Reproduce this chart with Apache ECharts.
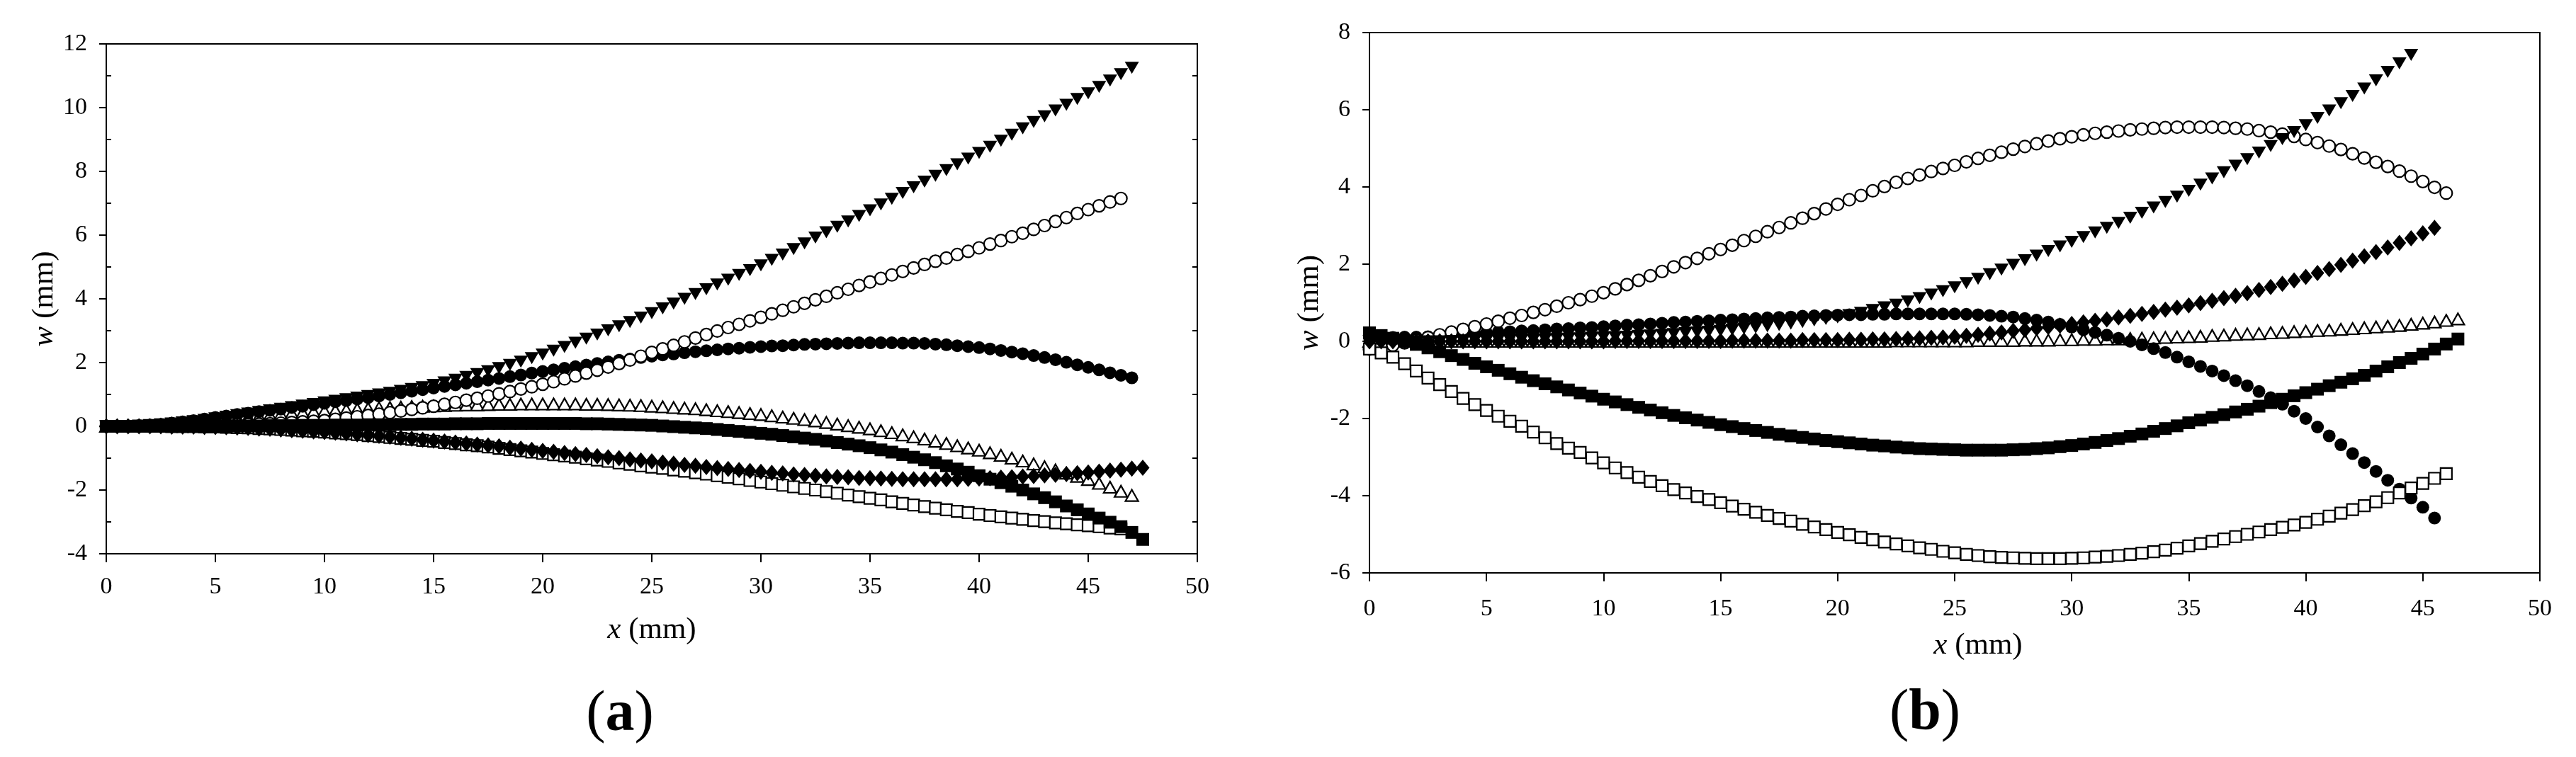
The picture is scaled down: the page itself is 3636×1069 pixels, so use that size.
<!DOCTYPE html>
<html>
<head>
<meta charset="utf-8">
<script src="https://cdn.jsdelivr.net/npm/echarts@6/dist/echarts.min.js"></script>
<style>
  html, body { margin: 0; padding: 0; background: #fff; }
  #main { width: 3636px; height: 1069px; }
</style>
</head>
<body>
<div id="main"></div>
<script>
// x positions (mm), shared by every series: point i sits at xPos[i]
const xPos = [0,0.5,1,1.5,2,2.5,3,3.5,4,4.5,5,5.5,6,6.5,7,7.5,8,8.5,9,9.5,
  10,10.5,11,11.5,12,12.5,13,13.5,14,14.5,15,15.5,16,16.5,17,17.5,18,18.5,19,19.5,
  20,20.5,21,21.5,22,22.5,23,23.5,24,24.5,25,25.5,26,26.5,27,27.5,28,28.5,29,29.5,
  30,30.5,31,31.5,32,32.5,33,33.5,34,34.5,35,35.5,36,36.5,37,37.5,38,38.5,39,39.5,
  40,40.5,41,41.5,42,42.5,43,43.5,44,44.5,45,45.5,46,46.5,47,47.5];

// ---- panel (a): w (mm)
const aDownTri = [0,0,0.01,0.02,0.04,0.06,0.09,0.12,0.16,0.2,
  0.25,0.3,0.35,0.4,0.45,0.5,0.55,0.6,0.65,0.7,
  0.75,0.8,0.85,0.9,0.95,1.0,1.05,1.11,1.17,1.23,
  1.3,1.38,1.46,1.55,1.64,1.73,1.83,1.93,2.03,2.14,
  2.25,2.37,2.49,2.62,2.75,2.88,3.01,3.14,3.27,3.41,
  3.55,3.7,3.85,4.0,4.15,4.3,4.45,4.6,4.75,4.9,
  5.05,5.22,5.39,5.56,5.74,5.92,6.09,6.26,6.43,6.6,
  6.78,6.96,7.14,7.32,7.5,7.68,7.86,8.04,8.22,8.4,
  8.58,8.77,8.96,9.15,9.35,9.55,9.73,9.91,10.09,10.27,
  10.45,10.65,10.85,11.05,11.25];
const aOpenCircle = [0,0,0,0,0,0.01,0.01,0.02,0.02,0.03,
  0.03,0.04,0.05,0.06,0.07,0.08,0.1,0.12,0.14,0.16,
  0.18,0.22,0.26,0.3,0.34,0.38,0.43,0.48,0.53,0.58,
  0.63,0.69,0.75,0.82,0.88,0.95,1.02,1.09,1.17,1.24,
  1.32,1.4,1.49,1.58,1.67,1.76,1.86,1.97,2.08,2.2,
  2.32,2.43,2.54,2.65,2.77,2.88,2.99,3.1,3.2,3.31,
  3.42,3.53,3.64,3.75,3.86,3.97,4.08,4.19,4.3,4.42,
  4.53,4.64,4.75,4.86,4.97,5.08,5.18,5.28,5.39,5.49,
  5.6,5.72,5.83,5.95,6.06,6.18,6.3,6.43,6.55,6.68,
  6.8,6.92,7.04,7.15];
const aFilledCircle = [0,0,0.01,0.02,0.04,0.06,0.1,0.14,0.18,0.23,
  0.28,0.32,0.37,0.41,0.46,0.5,0.54,0.59,0.63,0.68,
  0.72,0.77,0.81,0.86,0.9,0.95,1.0,1.05,1.1,1.15,
  1.2,1.25,1.3,1.35,1.4,1.45,1.5,1.56,1.61,1.67,
  1.72,1.77,1.82,1.87,1.92,1.97,2.02,2.07,2.11,2.16,
  2.2,2.24,2.27,2.31,2.34,2.37,2.4,2.43,2.45,2.48,
  2.5,2.52,2.53,2.55,2.57,2.58,2.59,2.6,2.61,2.62,
  2.62,2.62,2.62,2.61,2.61,2.6,2.58,2.56,2.53,2.5,
  2.47,2.43,2.38,2.33,2.28,2.22,2.16,2.09,2.01,1.93,
  1.85,1.77,1.68,1.6,1.52];
const aOpenTri = [0,0,0.01,0.02,0.03,0.05,0.08,0.11,0.14,0.17,
  0.2,0.23,0.26,0.29,0.32,0.35,0.38,0.41,0.43,0.46,
  0.48,0.5,0.52,0.54,0.56,0.58,0.59,0.6,0.62,0.63,
  0.64,0.65,0.66,0.67,0.67,0.68,0.69,0.69,0.7,0.7,
  0.7,0.7,0.7,0.7,0.69,0.69,0.68,0.67,0.66,0.65,
  0.63,0.61,0.59,0.57,0.55,0.52,0.49,0.46,0.43,0.4,
  0.37,0.33,0.29,0.25,0.21,0.17,0.12,0.07,0.02,-0.03,
  -0.08,-0.14,-0.2,-0.27,-0.33,-0.4,-0.47,-0.54,-0.61,-0.68,
  -0.75,-0.83,-0.91,-1.0,-1.09,-1.18,-1.27,-1.37,-1.47,-1.57,
  -1.67,-1.79,-1.91,-2.04,-2.17];
const aFilledSquare = [0,0,0,0,0,0,0,0,0,0,
  0,0,0.01,0.01,0.01,0.02,0.02,0.02,0.03,0.03,
  0.03,0.04,0.04,0.04,0.05,0.05,0.05,0.06,0.06,0.07,
  0.07,0.07,0.08,0.08,0.08,0.09,0.09,0.09,0.09,0.09,
  0.09,0.09,0.09,0.09,0.08,0.08,0.07,0.06,0.05,0.04,
  0.03,0.01,-0.01,-0.03,-0.05,-0.07,-0.1,-0.13,-0.16,-0.19,
  -0.22,-0.25,-0.29,-0.33,-0.37,-0.41,-0.46,-0.51,-0.56,-0.61,
  -0.67,-0.74,-0.81,-0.89,-0.97,-1.05,-1.14,-1.24,-1.34,-1.44,
  -1.55,-1.66,-1.77,-1.88,-2.0,-2.12,-2.24,-2.37,-2.5,-2.62,
  -2.75,-2.88,-3.01,-3.15,-3.33,-3.55];
const aDiamond = [0,0,0,0,0,0,-0.01,-0.01,-0.01,-0.02,
  -0.02,-0.03,-0.04,-0.05,-0.07,-0.08,-0.1,-0.12,-0.14,-0.16,
  -0.18,-0.2,-0.22,-0.25,-0.27,-0.3,-0.33,-0.36,-0.39,-0.42,
  -0.45,-0.48,-0.51,-0.54,-0.57,-0.6,-0.63,-0.67,-0.7,-0.74,
  -0.77,-0.8,-0.84,-0.87,-0.9,-0.94,-0.97,-1.0,-1.04,-1.07,
  -1.1,-1.14,-1.17,-1.21,-1.24,-1.28,-1.31,-1.34,-1.37,-1.4,
  -1.43,-1.46,-1.48,-1.51,-1.53,-1.55,-1.57,-1.59,-1.6,-1.62,
  -1.63,-1.64,-1.65,-1.66,-1.66,-1.66,-1.66,-1.66,-1.66,-1.65,
  -1.64,-1.63,-1.61,-1.6,-1.58,-1.56,-1.54,-1.52,-1.5,-1.47,
  -1.45,-1.42,-1.39,-1.36,-1.33,-1.3];
const aOpenSquare = [0,0,0,0,0,0,-0.01,-0.01,-0.01,-0.02,
  -0.02,-0.03,-0.04,-0.05,-0.07,-0.08,-0.1,-0.12,-0.14,-0.16,
  -0.18,-0.21,-0.23,-0.26,-0.29,-0.32,-0.35,-0.38,-0.41,-0.44,
  -0.47,-0.51,-0.54,-0.58,-0.61,-0.65,-0.69,-0.73,-0.77,-0.81,
  -0.85,-0.89,-0.93,-0.97,-1.02,-1.06,-1.1,-1.15,-1.19,-1.24,
  -1.28,-1.32,-1.37,-1.41,-1.46,-1.5,-1.55,-1.6,-1.65,-1.7,
  -1.75,-1.8,-1.85,-1.9,-1.95,-2.0,-2.05,-2.1,-2.16,-2.21,
  -2.26,-2.31,-2.37,-2.42,-2.47,-2.52,-2.57,-2.62,-2.67,-2.71,
  -2.76,-2.8,-2.84,-2.88,-2.92,-2.96,-2.99,-3.03,-3.06,-3.09,
  -3.12,-3.15,-3.19,-3.22];

// ---- panel (b): w (mm)
const bDownTri = [0,0,0,0,0,0,0,0.01,0.01,0.02,
  0.02,0.03,0.03,0.04,0.04,0.05,0.06,0.07,0.08,0.09,
  0.1,0.11,0.12,0.14,0.15,0.17,0.19,0.21,0.23,0.25,
  0.27,0.3,0.33,0.36,0.39,0.42,0.46,0.5,0.54,0.58,
  0.62,0.68,0.74,0.81,0.88,0.95,1.03,1.12,1.21,1.3,
  1.4,1.51,1.62,1.74,1.86,1.98,2.1,2.22,2.34,2.46,
  2.58,2.7,2.82,2.94,3.07,3.2,3.33,3.47,3.61,3.75,
  3.9,4.06,4.22,4.38,4.55,4.72,4.89,5.06,5.24,5.42,
  5.6,5.79,5.98,6.17,6.36,6.55,6.76,6.98,7.2,7.42];
const bOpenCircle = [-0.2,-0.15,-0.1,-0.04,0.03,0.1,0.17,0.24,0.31,0.38,
  0.45,0.52,0.6,0.67,0.75,0.82,0.91,1.0,1.08,1.17,
  1.26,1.36,1.47,1.58,1.7,1.81,1.93,2.04,2.15,2.27,
  2.38,2.49,2.61,2.72,2.84,2.95,3.07,3.19,3.31,3.43,
  3.55,3.67,3.78,3.9,4.01,4.12,4.22,4.31,4.4,4.48,
  4.56,4.65,4.74,4.82,4.9,4.98,5.05,5.12,5.19,5.25,
  5.3,5.35,5.39,5.42,5.45,5.48,5.5,5.52,5.54,5.55,
  5.55,5.55,5.55,5.54,5.52,5.5,5.46,5.42,5.37,5.31,
  5.23,5.15,5.06,4.97,4.86,4.75,4.64,4.53,4.41,4.28,
  4.14,3.99,3.84];
const bFilledCircle = [0.1,0.1,0.1,0.11,0.11,0.12,0.14,0.16,0.18,0.2,
  0.22,0.24,0.25,0.27,0.28,0.3,0.32,0.33,0.35,0.36,
  0.38,0.4,0.42,0.43,0.45,0.47,0.49,0.5,0.52,0.53,
  0.55,0.56,0.58,0.59,0.61,0.62,0.63,0.65,0.66,0.67,
  0.68,0.69,0.69,0.7,0.7,0.71,0.71,0.71,0.71,0.71,
  0.71,0.7,0.69,0.67,0.65,0.63,0.59,0.55,0.5,0.44,
  0.37,0.3,0.23,0.16,0.08,0.0,-0.09,-0.19,-0.29,-0.41,
  -0.53,-0.65,-0.77,-0.89,-1.02,-1.15,-1.3,-1.46,-1.63,-1.81,
  -2.0,-2.22,-2.45,-2.68,-2.91,-3.14,-3.37,-3.6,-3.83,-4.06,
  -4.3,-4.58];
const bOpenTri = [0,0,0,0,0,0,0,0,0,0,
  0,0,0,0,0,0,0,0,0,0,
  0,0,0,0,0,0,0,0,0,0,
  0,0,0,0,0,0,0,0,0,0,
  0,0,0,0,0,0.01,0.01,0.01,0.01,0.01,
  0.01,0.01,0.02,0.02,0.02,0.02,0.03,0.03,0.03,0.04,
  0.04,0.05,0.05,0.06,0.06,0.07,0.08,0.09,0.1,0.11,
  0.12,0.13,0.15,0.16,0.18,0.19,0.2,0.22,0.23,0.25,
  0.26,0.28,0.29,0.31,0.33,0.35,0.37,0.39,0.41,0.44,
  0.47,0.5,0.54,0.58];
const bFilledSquare = [0.22,0.15,0.08,0.0,-0.08,-0.17,-0.27,-0.37,-0.47,-0.57,
  -0.66,-0.75,-0.84,-0.93,-1.02,-1.1,-1.18,-1.26,-1.34,-1.42,
  -1.5,-1.57,-1.64,-1.71,-1.78,-1.85,-1.92,-1.98,-2.04,-2.1,
  -2.16,-2.21,-2.26,-2.31,-2.36,-2.41,-2.45,-2.49,-2.53,-2.57,
  -2.6,-2.63,-2.66,-2.69,-2.71,-2.74,-2.76,-2.78,-2.79,-2.8,
  -2.81,-2.82,-2.82,-2.82,-2.82,-2.81,-2.8,-2.78,-2.76,-2.73,
  -2.7,-2.66,-2.62,-2.57,-2.52,-2.46,-2.4,-2.33,-2.26,-2.19,
  -2.11,-2.04,-1.97,-1.9,-1.83,-1.76,-1.68,-1.59,-1.5,-1.41,
  -1.33,-1.24,-1.15,-1.06,-0.97,-0.88,-0.77,-0.66,-0.55,-0.44,
  -0.33,-0.2,-0.07,0.06];
const bDiamond = [0,0,0,0,0,0,0,0,0,0,
  0,0,0,0,0,0,0,0,0,0,
  0,0.01,0.01,0.01,0.01,0.01,0.01,0.01,0.01,0.01,
  0.01,0.02,0.02,0.02,0.02,0.02,0.02,0.03,0.03,0.03,
  0.03,0.04,0.04,0.05,0.05,0.06,0.07,0.08,0.09,0.1,
  0.12,0.14,0.17,0.2,0.23,0.27,0.3,0.34,0.37,0.41,
  0.45,0.49,0.53,0.57,0.62,0.66,0.71,0.76,0.82,0.87,
  0.93,0.99,1.05,1.12,1.18,1.25,1.33,1.41,1.49,1.58,
  1.67,1.77,1.87,1.98,2.09,2.2,2.31,2.43,2.55,2.67,
  2.8,2.94];
const bOpenSquare = [-0.2,-0.3,-0.41,-0.58,-0.77,-0.95,-1.12,-1.3,-1.48,-1.64,
  -1.79,-1.94,-2.07,-2.2,-2.35,-2.5,-2.65,-2.77,-2.88,-3.02,
  -3.15,-3.28,-3.4,-3.52,-3.63,-3.74,-3.84,-3.93,-4.02,-4.1,
  -4.18,-4.27,-4.35,-4.43,-4.51,-4.59,-4.66,-4.74,-4.81,-4.88,
  -4.95,-5.01,-5.08,-5.14,-5.2,-5.25,-5.3,-5.35,-5.39,-5.44,
  -5.48,-5.52,-5.55,-5.58,-5.6,-5.61,-5.62,-5.63,-5.63,-5.63,
  -5.62,-5.61,-5.59,-5.57,-5.55,-5.52,-5.49,-5.45,-5.41,-5.36,
  -5.3,-5.24,-5.18,-5.12,-5.06,-5.0,-4.94,-4.88,-4.82,-4.76,
  -4.69,-4.61,-4.53,-4.45,-4.36,-4.26,-4.16,-4.05,-3.93,-3.8,
  -3.68,-3.55,-3.43];

// axis ranges
const aX = {min: 0, max: 50, step: 5};
const aY = {min: -4, max: 12, step: 2};
const bX = {min: 0, max: 50, step: 5};
const bY = {min: -6, max: 8, step: 2};

const FONT = 'Liberation Serif';
const BLACK = '#000';

function pts(ys) {
  return ys.map((y, i) => [xPos[i], y]);
}

const filled = {color: BLACK, opacity: 1};
const open = {color: '#fff', borderColor: BLACK, borderWidth: 2.2, opacity: 1};
const markers = {
  openTri:     {symbol: 'triangle', symbolSize: [18, 16], itemStyle: open},
  filledCirc:  {symbol: 'circle', symbolSize: 18, itemStyle: filled},
  openCirc:    {symbol: 'circle', symbolSize: 17, itemStyle: open},
  openSq:      {symbol: 'rect', symbolSize: 16, itemStyle: open},
  filledSq:    {symbol: 'rect', symbolSize: 18, itemStyle: filled},
  diamond:     {symbol: 'diamond', symbolSize: [19, 23], itemStyle: filled},
  downTri:     {symbol: 'triangle', symbolSize: [20, 17], symbolRotate: 180, itemStyle: filled}
};

function scatter(ys, mk, xi, yi) {
  return Object.assign({
    type: 'scatter',
    data: pts(ys),
    xAxisIndex: xi,
    yAxisIndex: yi,
    silent: true,
    emphasis: {disabled: true}
  }, mk);
}

const line2 = {show: true, onZero: false, lineStyle: {color: BLACK, width: 2}};
const lbl = (margin) => ({show: true, margin: margin, color: BLACK, fontFamily: FONT, fontSize: 34});
const noLbl = {show: false};
const noSplit = {show: false};
const titleStyle = (pad) => ({
  fontFamily: FONT, fontSize: 43, color: BLACK, padding: pad,
  rich: {
    i: {fontFamily: FONT, fontSize: 43, fontStyle: 'italic', color: BLACK},
    n: {fontFamily: FONT, fontSize: 43, color: BLACK}
  }
});

const option = {
  backgroundColor: '#fff',
  animation: false,
  grid: [
    {left: 150, top: 62, width: 1540, height: 720, outerBoundsMode: 'none'},
    {left: 1933, top: 46, width: 1652, height: 763, outerBoundsMode: 'none'}
  ],
  xAxis: [
    {gridIndex: 0, type: 'value', position: 'bottom', min: aX.min, max: aX.max, interval: aX.step,
      name: '{i|x}{n| (mm)}', nameLocation: 'middle', nameGap: 86, nameMoveOverlap: false,
      nameTextStyle: titleStyle([0, 0, 0, 0]),
      axisLine: line2, axisTick: {show: true, length: 12, lineStyle: {color: BLACK, width: 2}},
      axisLabel: lbl(30), splitLine: noSplit},
    {gridIndex: 0, type: 'value', position: 'top', min: aX.min, max: aX.max, interval: aX.step,
      axisLine: line2, axisTick: {show: false}, axisLabel: noLbl, splitLine: noSplit},
    {gridIndex: 1, type: 'value', position: 'bottom', min: bX.min, max: bX.max, interval: bX.step,
      name: '{i|x}{n| (mm)}', nameLocation: 'middle', nameGap: 81, nameMoveOverlap: false,
      nameTextStyle: titleStyle([0, 0, 0, 66]),
      axisLine: line2, axisTick: {show: true, length: 12, lineStyle: {color: BLACK, width: 2}},
      axisLabel: lbl(34), splitLine: noSplit},
    {gridIndex: 1, type: 'value', position: 'top', min: bX.min, max: bX.max, interval: bX.step,
      axisLine: line2, axisTick: {show: false}, axisLabel: noLbl, splitLine: noSplit}
  ],
  yAxis: [
    {gridIndex: 0, type: 'value', position: 'left', min: aY.min, max: aY.max, interval: aY.step,
      name: '{i|w}{n| (mm)}', nameLocation: 'middle', nameGap: 66, nameMoveOverlap: false,
      nameTextStyle: titleStyle([0, 0, 0, 0]),
      axisLine: line2, axisTick: {show: true, length: 10, lineStyle: {color: BLACK, width: 2}},
      axisLabel: lbl(27), splitLine: noSplit},
    {gridIndex: 0, type: 'value', position: 'left', min: aY.min, max: aY.max, interval: aY.step,
      axisLine: {show: false}, axisTick: {show: true, inside: true, length: 0},
      minorTick: {show: true, splitNumber: 2, length: 7, lineStyle: {color: BLACK, width: 2}},
      axisLabel: noLbl, splitLine: noSplit, minorSplitLine: {show: false}},
    {gridIndex: 0, type: 'value', position: 'right', min: aY.min, max: aY.max, interval: aY.step,
      axisLine: line2, axisTick: {show: true, inside: true, length: 0},
      minorTick: {show: true, splitNumber: 2, length: 7, lineStyle: {color: BLACK, width: 2}},
      axisLabel: noLbl, splitLine: noSplit, minorSplitLine: {show: false}},
    {gridIndex: 1, type: 'value', position: 'left', min: bY.min, max: bY.max, interval: bY.step,
      name: '{i|w}{n| (mm)}', nameLocation: 'middle', nameGap: 63, nameMoveOverlap: false,
      nameTextStyle: titleStyle([0, 0, 0, 0]),
      axisLine: line2, axisTick: {show: true, length: 10, lineStyle: {color: BLACK, width: 2}},
      axisLabel: lbl(27), splitLine: noSplit},
    {gridIndex: 1, type: 'value', position: 'right', min: bY.min, max: bY.max, interval: bY.step,
      axisLine: line2, axisTick: {show: false}, axisLabel: noLbl, splitLine: noSplit}
  ],
  series: [
    scatter(aOpenTri, markers.openTri, 0, 0),
    scatter(aFilledCircle, markers.filledCirc, 0, 0),
    scatter(aOpenCircle, markers.openCirc, 0, 0),
    scatter(aOpenSquare, markers.openSq, 0, 0),
    scatter(aFilledSquare, markers.filledSq, 0, 0),
    scatter(aDiamond, markers.diamond, 0, 0),
    scatter(aDownTri, markers.downTri, 0, 0),

    scatter(bOpenTri, markers.openTri, 2, 3),
    scatter(bFilledCircle, markers.filledCirc, 2, 3),
    scatter(bOpenCircle, markers.openCirc, 2, 3),
    scatter(bOpenSquare, markers.openSq, 2, 3),
    scatter(bFilledSquare, markers.filledSq, 2, 3),
    scatter(bDiamond, markers.diamond, 2, 3),
    scatter(bDownTri, markers.downTri, 2, 3)
  ],
  graphic: [
    panelText('a', 875, 1010),
    panelText('b', 2717, 1008)
  ]
};

function panelText(letter, x, y) {
  return {
    type: 'text', x: x, y: y, silent: true,
    style: {
      text: '{n|(}{b|' + letter + '}{n|)}', align: 'center', verticalAlign: 'middle',
      fontFamily: FONT, fontSize: 82, fill: BLACK,
      rich: {
        n: {fontFamily: FONT, fontSize: 82, fill: BLACK},
        b: {fontFamily: FONT, fontSize: 82, fontWeight: 'bold', fill: BLACK}
      }
    }
  };
}

const chart = echarts.init(document.getElementById('main'), null, {renderer: 'canvas'});
chart.setOption(option);
</script>
</body>
</html>
